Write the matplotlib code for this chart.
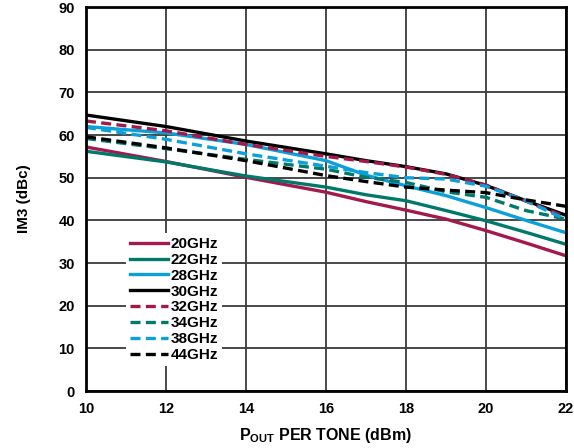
import numpy as np
import matplotlib
matplotlib.use('Agg')
import matplotlib.pyplot as plt

plt.rcParams['font.family'] = ['Liberation Sans', 'DejaVu Sans']
plt.rcParams['font.weight'] = 'bold'
plt.rcParams['mathtext.fontset'] = 'custom'
plt.rcParams['mathtext.rm'] = 'Liberation Sans:bold'
plt.rcParams['mathtext.bf'] = 'Liberation Sans:bold'

# output power per tone (dBm)
pout = [10, 12, 14, 16, 17, 18, 19, 20, 21, 22]

# IM3 (dBc)
im3_20 = [57.2, 53.8, 50.1, 46.6, 44.4, 42.4, 40.3, 37.6, 34.7, 31.7]
im3_22 = [56.2, 53.7, 50.4, 47.8, 46.0, 44.6, 42.3, 39.9, 37.2, 34.4]
im3_28 = [62.0, 60.5, 57.8, 54.0, 50.6, 48.1, 45.8, 43.0, 40.0, 37.1]
im3_30 = [64.7, 62.0, 58.6, 55.6, 54.0, 52.6, 50.9, 48.2, 44.6, 41.2]
im3_32 = [63.3, 61.0, 57.8, 55.0, 53.8, 52.5, 50.8, 48.3, 44.5, 40.8]
im3_34 = [59.2, 56.8, 54.3, 52.0, 50.1, 48.9, 46.7, 45.4, 42.3, 40.3]
im3_38 = [61.8, 59.0, 55.6, 52.7, 51.2, 50.0, 49.7, 48.0, 44.6, 40.2]
im3_44 = [59.6, 57.0, 54.0, 50.5, 49.1, 47.8, 47.1, 46.5, 44.8, 43.3]

labels = ['20GHz', '22GHz', '28GHz', '30GHz', '32GHz', '34GHz', '38GHz', '44GHz']

magenta = '#A3194B'
teal = '#00796B'
blue = '#0AA0DA'
black = '#000000'

dash = (0, (3, 1.6))
series = [
    (im3_20, magenta, '-'),
    (im3_22, teal, '-'),
    (im3_28, blue, '-'),
    (im3_30, black, '-'),
    (im3_32, magenta, dash),
    (im3_34, teal, dash),
    (im3_38, blue, dash),
    (im3_44, black, dash),
]

fig = plt.figure(figsize=(5.74, 4.48), dpi=100)
ax = fig.add_axes([0.1498, 0.1272, 0.8362, 0.857])

for (vals, col, ls), lab in zip(series, labels):
    ax.plot(pout, vals, color=col, linestyle=ls, linewidth=2.4, label=lab)

ax.set_xlim(10, 22)
ax.set_ylim(0, 90)
ax.set_xticks(range(10, 23, 2))
ax.set_yticks(range(0, 91, 10))
ax.grid(True, color='#3a3a3a', linewidth=1.3)
ax.set_axisbelow(True)
for s in ax.spines.values():
    s.set_linewidth(2)
ax.tick_params(axis='both', length=0, labelsize=10.5)
ax.tick_params(axis='x', pad=8)
ax.tick_params(axis='y', pad=8)
for t in ax.get_xticklabels() + ax.get_yticklabels():
    t.set_fontweight('bold')

ax.set_xlabel(r'P$_{\mathrm{OUT}}$ PER TONE (dBm)', fontsize=11.5, fontweight='bold', labelpad=7)
ax.set_ylabel('IM3 (dBc)', fontsize=11, fontweight='bold', labelpad=20)

leg = ax.legend(loc='upper left', bbox_to_anchor=(0.083, 0.411), fontsize=11,
                handlelength=2.5, handletextpad=0.2, labelspacing=0.12,
                borderpad=0.25, borderaxespad=0, frameon=True, fancybox=False)
leg.get_frame().set_facecolor('white')
leg.get_frame().set_edgecolor('none')
leg.get_frame().set_alpha(1)
for t in leg.get_texts():
    t.set_fontweight('bold')

fig.savefig('out.png', dpi=100)
